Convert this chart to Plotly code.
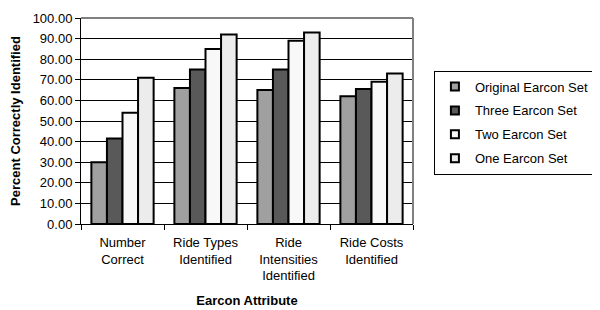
import plotly.graph_objects as go

categories = ["Number<br>Correct", "Ride Types<br>Identified", "Ride<br>Intensities<br>Identified", "Ride Costs<br>Identified"]
series_names = ["Original Earcon Set", "Three Earcon Set", "Two Earcon Set", "One Earcon Set"]
original = [30.0, 66.0, 65.0, 62.0]
three = [41.5, 75.0, 75.0, 65.5]
two = [54.0, 85.0, 89.0, 69.0]
one = [71.0, 92.0, 93.0, 73.0]
colors = ["#a0a0a0", "#595959", "#f8f8f8", "#ececec"]
y_ticks = [0, 10, 20, 30, 40, 50, 60, 70, 80, 90, 100]

FONT = "Arial"
fig = go.Figure()
for name, vals, c in zip(series_names, [original, three, two, one], colors):
    fig.add_trace(go.Bar(x=categories, y=vals, name=name, showlegend=False,
                         marker=dict(color=c, line=dict(color="black", width=2))))
# legend entries with small square swatches
for name, c in zip(series_names, colors):
    fig.add_trace(go.Scatter(x=[None], y=[None], mode="markers", name=name,
                             legendgroup=name,
                             marker=dict(symbol="square", size=8, color=c,
                                         line=dict(color="black", width=2))))

fig.update_layout(
    width=600, height=310,
    margin=dict(l=73, r=195, t=10, b=94),
    plot_bgcolor="white", paper_bgcolor="white",
    barmode="group", bargap=0.25, bargroupgap=0,
    font=dict(family=FONT, size=13, color="black"),
    showlegend=True,
    legend=dict(x=1.063, y=0.745, xanchor="left", yanchor="top",
                bordercolor="black", borderwidth=1, bgcolor="white",
                traceorder="grouped", tracegroupgap=4, itemwidth=30,
                font=dict(family=FONT, size=13)),
    xaxis=dict(showline=True, linecolor="black", linewidth=1, automargin=False,
               ticks="outside", tickson="boundaries", ticklen=5, tickcolor="black",
               tickfont=dict(size=13), ticklabelstandoff=6,
               title=dict(text="<b>Earcon Attribute</b>", font=dict(size=13), standoff=13)),
    yaxis=dict(range=[0, 100], tickvals=y_ticks, tickformat=".2f", automargin=False,
               showline=True, linecolor="black", linewidth=1,
               ticks="outside", ticklen=5, tickcolor="black",
               showgrid=True, gridcolor="black", gridwidth=1, zeroline=False,
               tickfont=dict(size=13),
               title=dict(text="<b>Percent Correctly Identified</b>", font=dict(size=13), standoff=11)),
    shapes=[
        dict(type="line", xref="paper", yref="paper", x0=0, x1=1, y0=1, y1=1,
             line=dict(color="#808080", width=2)),
        dict(type="line", xref="paper", yref="paper", x0=1, x1=1, y0=0, y1=1,
             line=dict(color="#808080", width=2)),
    ],
)
fig.write_html("out.html")
